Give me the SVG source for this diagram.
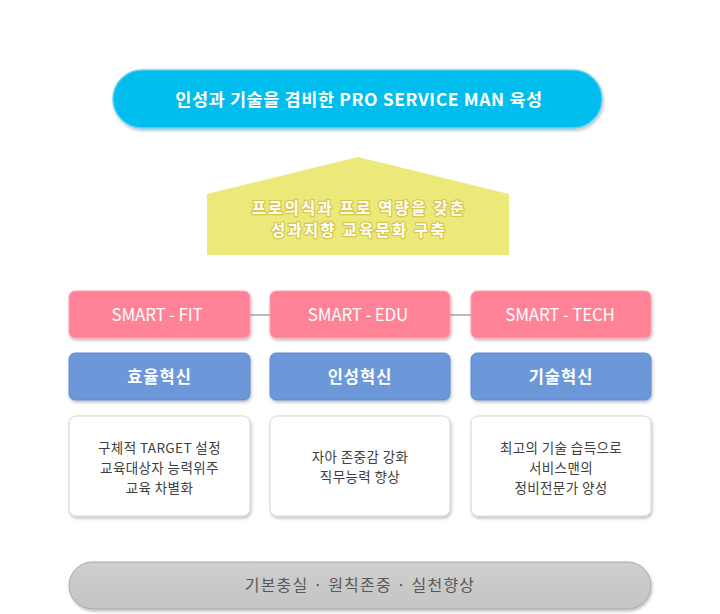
<svg xmlns="http://www.w3.org/2000/svg" width="720" height="614" viewBox="0 0 720 614">
<defs>
<filter id="sh" x="-10%" y="-20%" width="120%" height="150%">
<feDropShadow dx="1" dy="2" stdDeviation="1.5" flood-color="#000" flood-opacity="0.25"/>
</filter>
<linearGradient id="gray" x1="0" y1="0" x2="0" y2="1">
<stop offset="0" stop-color="#cfcfcf"/>
<stop offset="1" stop-color="#c4c4c4"/>
</linearGradient>
</defs>
<style>
text{font-family:"Noto Sans CJK KR","Noto Sans",sans-serif;text-anchor:middle}
.pink{fill:#ff8296;stroke:#ff9fae;stroke-width:1}
.blue{fill:#6c97d9;stroke:#5f8bd0;stroke-width:1}
.white{fill:#fff;stroke:#d4d4d4;stroke-width:1}
.pt{fill:#fff;font-size:17px;font-weight:400;letter-spacing:-0.2px}
.bt{fill:#fff;font-size:16.5px;font-weight:700;letter-spacing:1px}
.wt{fill:#404040;font-size:13.5px;letter-spacing:0.4px}
.yt{fill:#fff;font-size:15.5px;font-weight:700;letter-spacing:2.2px;stroke:#d8c94a;stroke-width:2.5;paint-order:stroke;stroke-linejoin:round}
</style>
<rect width="720" height="614" fill="#fff"/>
<g id="goal">
<rect x="113" y="70" width="489" height="58" rx="29" fill="#00bdee" stroke="#5fd3f5" stroke-width="1.5" filter="url(#sh)"/>
<text x="359" y="106" fill="#fff" font-size="17.5" font-weight="700" letter-spacing="0.6">인성과 기술을 겸비한 PRO SERVICE MAN 육성</text>
</g>
<g id="culture">
<polygon points="358,157 509,194 509,255 207,255 207,194" fill="#ece87a"/>
<text class="yt" x="359" y="214">프로의식과 프로 역량을 갖춘</text>
<text class="yt" x="359" y="236">성과지향 교육문화 구축</text>
</g>
<g id="connectors">
<line x1="250" y1="315" x2="270" y2="315" stroke="#a6a6a6" stroke-width="1.5"/>
<line x1="450" y1="315" x2="471" y2="315" stroke="#a6a6a6" stroke-width="1.5"/>
</g>
<g id="smart-fit">
<rect class="pink" x="69" y="291" width="181" height="47" rx="6" filter="url(#sh)"/>
<text class="pt" x="157" y="321">SMART - FIT</text>
</g>
<g id="smart-edu">
<rect class="pink" x="270" y="291" width="180" height="47" rx="6" filter="url(#sh)"/>
<text class="pt" x="358" y="321">SMART - EDU</text>
</g>
<g id="smart-tech">
<rect class="pink" x="471" y="291" width="180" height="47" rx="6" filter="url(#sh)"/>
<text class="pt" x="560" y="321">SMART - TECH</text>
</g>
<g id="eff">
<rect class="blue" x="69" y="353" width="181" height="47" rx="6" filter="url(#sh)"/>
<text class="bt" x="159.5" y="383">효율혁신</text>
</g>
<g id="char">
<rect class="blue" x="270" y="353" width="180" height="47" rx="6" filter="url(#sh)"/>
<text class="bt" x="360" y="383">인성혁신</text>
</g>
<g id="tech">
<rect class="blue" x="471" y="353" width="180" height="47" rx="6" filter="url(#sh)"/>
<text class="bt" x="561" y="383">기술혁신</text>
</g>
<g id="desc1">
<rect class="white" x="69" y="416" width="181" height="100" rx="7" filter="url(#sh)"/>
<text class="wt" x="159.5" y="453">구체적 TARGET 설정</text>
<text class="wt" x="159.5" y="473">교육대상자 능력위주</text>
<text class="wt" x="159.5" y="493">교육 차별화</text>
</g>
<g id="desc2">
<rect class="white" x="270" y="416" width="180" height="100" rx="7" filter="url(#sh)"/>
<text class="wt" x="360" y="462">자아 존중감 강화</text>
<text class="wt" x="360" y="482">직무능력 향상</text>
</g>
<g id="desc3">
<rect class="white" x="471" y="416" width="180" height="100" rx="7" filter="url(#sh)"/>
<text class="wt" x="561" y="453">최고의 기술 습득으로</text>
<text class="wt" x="561" y="473">서비스맨의</text>
<text class="wt" x="561" y="493">정비전문가 양성</text>
</g>
<g id="base">
<rect x="69" y="562" width="582" height="47" rx="23.5" fill="url(#gray)" stroke="#a8a8a8" stroke-width="1" filter="url(#sh)"/>
<text x="360" y="591" fill="#595959" font-size="16" letter-spacing="1.2">기본충실 · 원칙존중 · 실천향상</text>
</g>
</svg>
